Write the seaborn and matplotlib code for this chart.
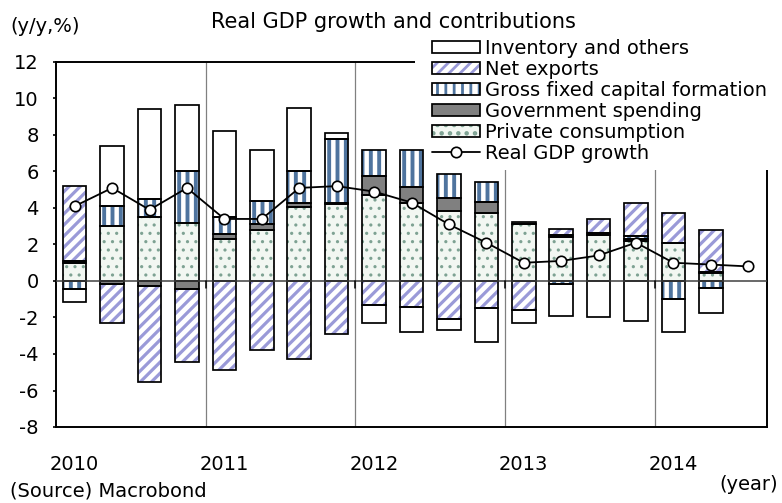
import numpy as np
import pandas as pd
import matplotlib
matplotlib.use("Agg")
import matplotlib.pyplot as plt
import seaborn as sns
from matplotlib.patches import Patch, Rectangle
from matplotlib.lines import Line2D
from matplotlib.legend_handler import HandlerTuple

# ---------------- data ----------------
quarters = ["2010Q1", "2010Q2", "2010Q3", "2010Q4",
            "2011Q1", "2011Q2", "2011Q3", "2011Q4",
            "2012Q1", "2012Q2", "2012Q3", "2012Q4",
            "2013Q1", "2013Q2", "2013Q3", "2013Q4",
            "2014Q1", "2014Q2", "2014Q3"]
private_consumption = [1.0, 3.0, 3.5, 3.2, 2.3, 2.8, 4.05, 4.2, 4.7, 4.25, 3.85, 3.7,
                       3.1, 2.4, 2.5, 2.2, 2.1, 0.45]
government_spending = [0.1, -0.15, -0.25, -0.45, 0.3, 0.3, 0.25, 0.1, 1.05, 0.9, 0.7, 0.65,
                       0.15, 0.12, 0.12, 0.12, 0.0, 0.07]
gross_fixed_capital = [-0.45, 1.1, 1.0, 2.85, 0.9, 1.3, 1.7, 3.5, 1.45, 2.05, 1.3, 1.1,
                       0.0, -0.15, 0.0, 0.13, -1.0, -0.38]
net_exports = [4.1, -2.15, -5.3, -4.0, -4.85, -3.8, -4.3, -2.9, -1.3, -1.4, -2.1, -1.5,
               -1.6, 0.33, 0.75, 1.8, 1.65, 2.25]
inventory_others = [-0.7, 3.3, 4.9, 3.6, 4.7, 2.8, 3.5, 0.3, -1.0, -1.4, -0.6, -1.85,
                    -0.7, -1.75, -2.0, -2.2, -1.8, -1.4]
real_gdp_growth = [4.1, 5.1, 3.9, 5.1, 3.4, 3.4, 5.1, 5.2, 4.9, 4.3, 3.1, 2.1,
                   1.0, 1.1, 1.4, 2.1, 1.0, 0.9, 0.8]
year_labels = ["2010", "2011", "2012", "2013", "2014"]
y_ticks = [-8, -6, -4, -2, 0, 2, 4, 6, 8, 10, 12]

# ---------------- style ----------------
sns.set_theme(style="white")
plt.rcParams["font.family"] = ["DejaVu Sans"]
plt.rcParams["axes.unicode_minus"] = False
for key in ["text.color", "axes.labelcolor", "xtick.color", "ytick.color"]:
    plt.rcParams[key] = "black"
FS = 14

W, H = 782, 503
fig = plt.figure(figsize=(W / 100, H / 100), dpi=100)
ax = fig.add_axes([56 / W, 1 - 427 / H, (767 - 56) / W, (427 - 62) / H])

n_bars = len(private_consumption)
x_all = np.arange(len(quarters))
x_bar = x_all[:n_bars]

# name, values, face, hatch, hatch colour, hatch linewidth
components = [
    ("Private consumption", private_consumption, "#f2f7f2", "..", "#7ea293", 1.1),
    ("Government spending", government_spending, "#808080", None, "#808080", 1.0),
    ("Gross fixed capital formation", gross_fixed_capital, "white", "||", "#4f749e", 2.8),
    ("Net exports", net_exports, "white", "///", "#9a9ad8", 2.3),
    ("Inventory and others", inventory_others, "white", None, "white", 1.0),
]

has_hlw = hasattr(Patch, "set_hatch_linewidth")
EDGE_LW = 1.25
BAR_W = 0.63

pos = np.zeros(n_bars)
neg = np.zeros(n_bars)
legend_parts = {}
for name, vals, face, hatch, hcol, hlw in components:
    v = np.asarray(vals, dtype=float)
    bottom = np.where(v >= 0, pos, neg)
    pos = pos + np.where(v > 0, v, 0)
    neg = neg + np.where(v < 0, v, 0)
    mask = v != 0
    df = pd.DataFrame({"x": x_bar[mask], "value": v[mask]})
    b = bottom[mask]
    plt.rcParams["hatch.linewidth"] = hlw
    before = len(ax.patches)
    sns.barplot(data=df, x="x", y="value", native_scale=True, width=BAR_W,
                errorbar=None, ax=ax, color=face, saturation=1, bottom=b,
                facecolor=face, edgecolor=hcol, hatch=hatch, linewidth=0, zorder=3)
    if has_hlw:
        for p in ax.patches[before:]:
            p.set_hatch_linewidth(hlw)
    sns.barplot(data=df, x="x", y="value", native_scale=True, width=BAR_W,
                errorbar=None, ax=ax, color="black", saturation=1, bottom=b,
                facecolor="none", edgecolor="black", linewidth=EDGE_LW, zorder=3.1)
    h1 = Patch(facecolor=face, edgecolor=hcol, hatch=hatch, linewidth=0)
    if has_hlw:
        h1.set_hatch_linewidth(hlw)
    h2 = Patch(facecolor="none", edgecolor="black", linewidth=EDGE_LW)
    legend_parts[name] = (h1, h2)

plt.rcParams["hatch.linewidth"] = 2.0

# GDP line
sns.lineplot(x=x_all, y=real_gdp_growth, ax=ax, color="black", linewidth=1.3,
             marker="o", markersize=7.5, markerfacecolor="white",
             markeredgecolor="black", markeredgewidth=1.2, zorder=6)

# axes
ax.set_xlim(-0.5, len(quarters) - 0.5)
ax.set_ylim(min(y_ticks), max(y_ticks))
ax.set_yticks(y_ticks)
ax.set_yticklabels([str(t) for t in y_ticks])
ax.set_xticks(x_all[::4])
ax.set_xticklabels(year_labels)
ax.set_xlabel("")
ax.set_ylabel("")
ax.tick_params(axis="x", length=0, pad=20, labelsize=FS, colors="black")
ax.tick_params(axis="y", length=2.5, width=1.2, direction="out", pad=10,
               labelsize=FS, colors="black", left=True)
for s in ax.spines.values():
    s.set_visible(True)
    s.set_color("black")
    s.set_linewidth(1.4)

# year separators
for k in range(4, len(quarters), 4):
    ax.axvline(k - 0.5, color="#808080", linewidth=0.9, zorder=1.5)
    ax.plot([k - 0.5, k - 0.5], [0, -0.38], color="black", linewidth=1.1, zorder=3.6)
ax.axhline(0, color="#404040", linewidth=1.1, zorder=3.5)

# white cover behind legend
cover = Rectangle((415 / W, 1 - 170 / H), (W - 415) / W, (170 - 35) / H,
                  transform=fig.transFigure, facecolor="white", edgecolor="none",
                  zorder=2.8, clip_on=False)
ax.add_artist(cover)

order = ["Inventory and others", "Net exports", "Gross fixed capital formation",
         "Government spending", "Private consumption"]
handles = [legend_parts[k] for k in order]
labels = list(order)
handles.append(Line2D([], [], color="black", linewidth=1.3, marker="o",
                      markersize=7.5, markerfacecolor="white",
                      markeredgecolor="black", markeredgewidth=1.2))
labels.append("Real GDP growth")
leg = ax.legend(handles, labels, loc="upper left",
                bbox_to_anchor=(432 / W, 1 - 39 / H), bbox_transform=fig.transFigure,
                frameon=False, borderpad=0, borderaxespad=0, handlelength=2.45,
                handleheight=0.58, handletextpad=0.3, labelspacing=0.1,
                fontsize=FS, handler_map={tuple: HandlerTuple(ndivide=1, pad=0)})
leg.set_zorder(7)

fig.text(10 / W, 1 - 27 / H, "(y/y,%)", ha="left", va="center", fontsize=FS)
fig.text(393 / W, 1 - 22 / H, "Real GDP growth and contributions",
         ha="center", va="center", fontsize=15)
fig.text(10 / W, 1 - 491 / H, "(Source) Macrobond", ha="left", va="center", fontsize=FS)
fig.text(778 / W, 1 - 484 / H, "(year)", ha="right", va="center", fontsize=FS)

fig.savefig("out.png", dpi=100)
